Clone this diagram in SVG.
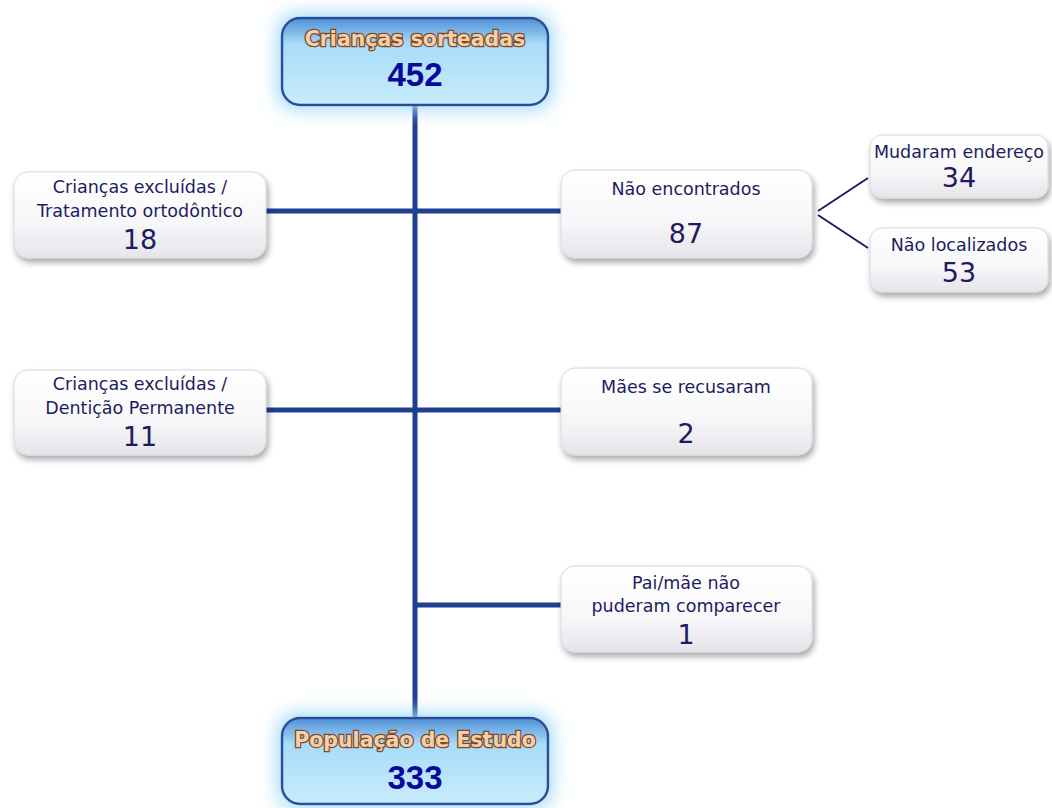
<svg xmlns="http://www.w3.org/2000/svg" width="1052" height="808" viewBox="0 0 1052 808">
<style>
.lbl{font-family:"DejaVu Sans",Verdana,sans-serif;font-size:17.5px;fill:#1d1d5e;text-anchor:middle}
.num{font-family:"DejaVu Sans",Verdana,sans-serif;font-size:27px;fill:#1d1d5e;text-anchor:middle}
.ttl{font-family:"DejaVu Sans",Verdana,sans-serif;font-size:20.5px;font-weight:bold;fill:#f6cfa4;stroke:#7a4a30;stroke-width:2.5;paint-order:stroke;text-anchor:middle}
.big{font-family:"Liberation Sans",Arial,sans-serif;font-size:33px;font-weight:bold;fill:#0a0a9a;text-anchor:middle}
.box{fill:url(#gw);stroke:#d8d8e0;stroke-width:1;filter:url(#sh)}
.bbox{fill:url(#gb);stroke:#2a4f9a;stroke-width:2.5;filter:url(#glow)}
.conn{stroke:#1f3f8f;stroke-width:5;fill:none}
.thin{stroke:#1d1d5e;stroke-width:2;fill:none}
</style>
<defs>
<linearGradient id="gw" x1="0" y1="0" x2="0" y2="1">
<stop offset="0" stop-color="#ffffff"/>
<stop offset="0.6" stop-color="#f7f7f9"/>
<stop offset="1" stop-color="#e4e4ea"/>
</linearGradient>
<linearGradient id="gb" x1="0" y1="0" x2="0" y2="1">
<stop offset="0" stop-color="#4f8fd6"/>
<stop offset="0.3" stop-color="#a8dcf8"/>
<stop offset="1" stop-color="#c8ecfc"/>
</linearGradient>
<filter id="sh" x="-10%" y="-10%" width="125%" height="135%">
<feGaussianBlur in="SourceAlpha" stdDeviation="3"/>
<feOffset dx="2" dy="4" result="b"/>
<feComponentTransfer><feFuncA type="linear" slope="0.35"/></feComponentTransfer>
<feMerge><feMergeNode/><feMergeNode in="SourceGraphic"/></feMerge>
</filter>
<filter id="glow" x="-20%" y="-40%" width="140%" height="180%">
<feMorphology in="SourceAlpha" operator="dilate" radius="4" result="d"/>
<feGaussianBlur in="d" stdDeviation="9" result="blur"/>
<feFlood flood-color="#a8dcf8" result="col"/>
<feComposite operator="in" in="col" in2="blur" result="g"/>
<feMerge><feMergeNode in="g"/><feMergeNode in="SourceGraphic"/></feMerge>
</filter>
</defs>

<g id="connectors">
<line class="conn" x1="415" y1="100" x2="415" y2="722"/>
<line class="conn" x1="262" y1="211" x2="563" y2="211"/>
<line class="conn" x1="262" y1="410" x2="563" y2="410"/>
<line class="conn" x1="415" y1="605" x2="563" y2="605"/>
<line class="thin" x1="818" y1="211" x2="868" y2="178"/>
<line class="thin" x1="818" y1="215" x2="868" y2="248"/>
</g>

<g id="n-top">
<rect class="bbox" x="282" y="18" width="266" height="87" rx="18"/>
<text class="ttl" x="415" y="46">Crianças sorteadas</text>
<text class="big" x="415" y="86">452</text>
</g>

<g id="n-orto">
<rect class="box" x="14" y="172" width="252" height="86" rx="14"/>
<text class="lbl" x="140" y="193">Crianças excluídas /</text>
<text class="lbl" x="140" y="217">Tratamento ortodôntico</text>
<text class="num" x="140" y="249">18</text>
</g>

<g id="n-perm">
<rect class="box" x="14" y="370" width="252" height="85" rx="14"/>
<text class="lbl" x="140" y="390">Crianças excluídas /</text>
<text class="lbl" x="140" y="414">Dentição Permanente</text>
<text class="num" x="140" y="446">11</text>
</g>

<g id="n-naoenc">
<rect class="box" x="561" y="170" width="251" height="88" rx="14"/>
<text class="lbl" x="686" y="195">Não encontrados</text>
<text class="num" x="686" y="243">87</text>
</g>

<g id="n-recus">
<rect class="box" x="561" y="368" width="251" height="87" rx="14"/>
<text class="lbl" x="686" y="393">Mães se recusaram</text>
<text class="num" x="686" y="443">2</text>
</g>

<g id="n-pai">
<rect class="box" x="561" y="566" width="251" height="86" rx="14"/>
<text class="lbl" x="686" y="589">Pai/mãe não</text>
<text class="lbl" x="686" y="612">puderam comparecer</text>
<text class="num" x="686" y="644">1</text>
</g>

<g id="n-mudaram">
<rect class="box" x="870" y="135" width="178" height="63" rx="12"/>
<text class="lbl" x="959" y="158">Mudaram endereço</text>
<text class="num" x="959" y="187">34</text>
</g>

<g id="n-naoloc">
<rect class="box" x="870" y="228" width="178" height="64" rx="12"/>
<text class="lbl" x="959" y="251">Não localizados</text>
<text class="num" x="959" y="282">53</text>
</g>

<g id="n-bottom">
<rect class="bbox" x="282" y="718" width="266" height="86" rx="18"/>
<text class="ttl" x="415" y="747">População de Estudo</text>
<text class="big" x="415" y="789">333</text>
</g>
</svg>
